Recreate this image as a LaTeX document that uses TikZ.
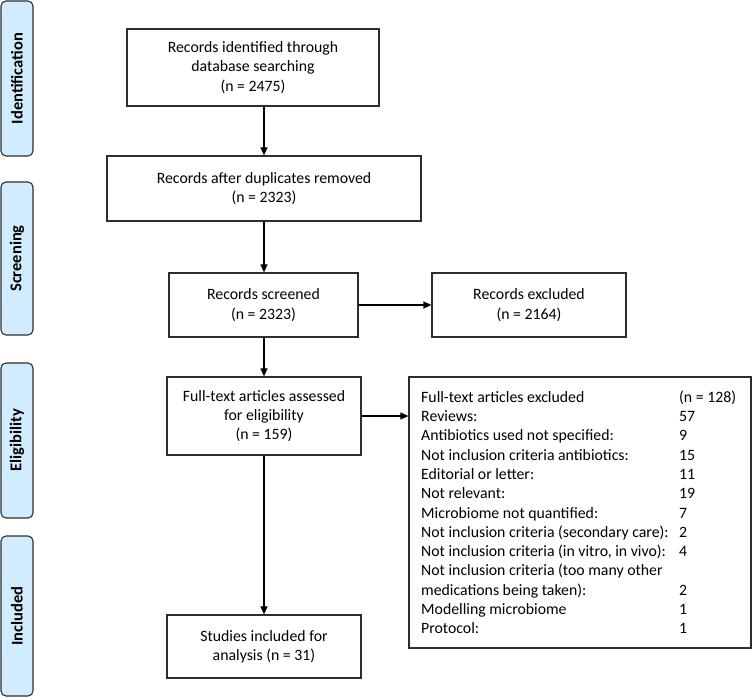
\documentclass[tikz,border=0pt]{standalone}
\usepackage{fontspec}
\setmainfont{Carlito}
\usetikzlibrary{arrows.meta}
\definecolor{stagefill}{HTML}{D2ECFF}
\definecolor{lineclr}{HTML}{2E2E2E}
\tikzset{
  box/.style={draw=lineclr, line width=1.2pt, inner sep=0pt, align=center,
    font=\fontsize{15.8}{19.3}\selectfont},
  stage/.style={draw=lineclr, line width=1.1pt, fill=stagefill, rounded corners=5pt,
    inner sep=0pt, minimum width=32pt},
  stagetext/.style={rotate=90, font=\fontsize{16.5}{19}\selectfont\bfseries, inner sep=0pt},
  arr/.style={draw=black, line width=1.3pt, -{Triangle[length=8pt,width=7pt]}}
}
\begin{document}
\begin{tikzpicture}[x=1pt,y=-1pt]
\useasboundingbox (0,0) rectangle (752,700);
% stage labels
\node[stage, minimum height=155pt] (sid) at (17,78.5) {};
\node[stagetext] (tid) at (sid.center) {Identification};
\node[stage, minimum height=153pt] (ssc) at (17,258.5) {};
\node[stagetext] (tsc) at (ssc.center) {Screening};
\node[stage, minimum height=155pt] (sel) at (17,440.5) {};
\node[stagetext] (tel) at (sel.center) {Eligibility};
\node[stage, minimum height=160pt] (sin) at (17,616) {};
\node[stagetext] (tin) at (sin.center) {Included};
% boxes
\node[box, minimum width=252pt, minimum height=77pt] (b1) at (253,67.5)
  {Records identified through\\database searching\\(n = 2475)};
\node[box, minimum width=314pt, minimum height=65pt] (b2) at (264,188.5)
  {Records after duplicates removed\\(n = 2323)};
\node[box, minimum width=189pt, minimum height=64pt] (b3) at (263.5,305)
  {Records screened\\(n = 2323)};
\node[box, minimum width=194pt, minimum height=64pt] (bx) at (529,305)
  {Records excluded\\(n = 2164)};
\node[box, minimum width=194pt, minimum height=78pt] (b4) at (264,416)
  {Full-text articles assessed\\for eligibility\\(n = 159)};
\node[box, minimum width=194pt, minimum height=63pt] (b5) at (264,646.5)
  {Studies included for\\analysis (n = 31)};
\node[draw=lineclr, line width=1.2pt, inner sep=0pt, minimum width=342pt, minimum height=271pt] (bb) at (580,512.5) {};
\node[anchor=north west, inner sep=0pt, font=\fontsize{15.8}{19.3}\selectfont] (bt) at (421,388.5)
  {\begin{tabular}{@{}p{258pt}@{}l@{}}
  Full-text articles excluded & (n = 128)\\
  Reviews: & 57\\
  Antibiotics used not specified: & 9\\
  Not inclusion criteria antibiotics: & 15\\
  Editorial or letter: & 11\\
  Not relevant: & 19\\
  Microbiome not quantified: & 7\\
  Not inclusion criteria (secondary care): & 2\\
  Not inclusion criteria (in vitro, in vivo): & 4\\
  Not inclusion criteria (too many other & \\
  medications being taken): & 2\\
  Modelling microbiome & 1\\
  Protocol: & 1
  \end{tabular}};
% arrows
\draw[arr] (b1.south -| b2.north) -- (b2.north);
\draw[arr] (b2.south) -- (b3.north -| b2.south);
\draw[arr] (b3.east) -- (bx.west);
\draw[arr] (b3.south -| b2.south) -- (b4.north);
\draw[arr] (b4.east) -- (b4.east -| bb.west);
\draw[arr] (b4.south) -- (b5.north);
\end{tikzpicture}
\end{document}
